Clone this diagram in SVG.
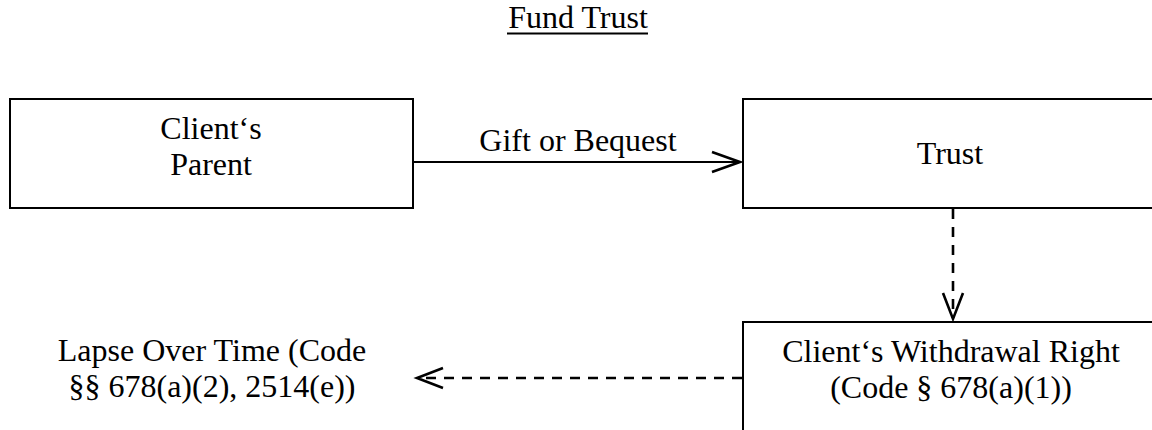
<svg xmlns="http://www.w3.org/2000/svg" width="1152" height="430" viewBox="0 0 1152 430">
  <style>
    text { font-family: "Liberation Serif", "Times New Roman", serif; font-size: 32px; fill: #000; text-anchor: middle; }
    .box { fill: #fff; stroke: #000; stroke-width: 2; }
    .line { fill: none; stroke: #000; stroke-width: 2.2; }
    .dash { stroke-width: 2.6; stroke-dasharray: 10 8; }
    .head { fill: none; stroke: #000; stroke-width: 2.6; stroke-linejoin: miter; }
  </style>

  <!-- Title -->
  <g id="title">
    <text x="578" y="28">Fund Trust</text>
    <line x1="507" y1="33.5" x2="648" y2="33.5" stroke="#000" stroke-width="2"/>
  </g>

  <!-- Nodes -->
  <g id="parent">
    <rect class="box" x="10" y="99" width="403" height="109"/>
    <text x="211" y="139">Client‘s</text>
    <text x="211" y="175">Parent</text>
  </g>

  <g id="trust">
    <rect class="box" x="743" y="99" width="420" height="109"/>
    <text x="950" y="164">Trust</text>
  </g>

  <g id="withdrawal">
    <rect class="box" x="743" y="322" width="420" height="120"/>
    <text x="951" y="362">Client‘s Withdrawal Right</text>
    <text x="951" y="398">(Code § 678(a)(1))</text>
  </g>

  <g id="lapse">
    <text x="212" y="361">Lapse Over Time (Code</text>
    <text x="212" y="397">§§ 678(a)(2), 2514(e))</text>
  </g>

  <!-- Connectors -->
  <g id="connectors">
    <!-- Parent to Trust -->
    <line class="line" x1="413" y1="162" x2="740" y2="162"/>
    <polyline class="head" points="712,152 740,162 712,172"/>
    <text x="578" y="151">Gift or Bequest</text>

    <!-- Trust to withdrawal right -->
    <line class="line dash" x1="953" y1="209" x2="953" y2="318"/>
    <polyline class="head" points="943,293 953,319 963,293"/>

    <!-- Withdrawal right to lapse -->
    <line class="line dash" x1="742" y1="378" x2="420" y2="378"/>
    <polyline class="head" points="443,368 417,378 443,388"/>
  </g>
</svg>
